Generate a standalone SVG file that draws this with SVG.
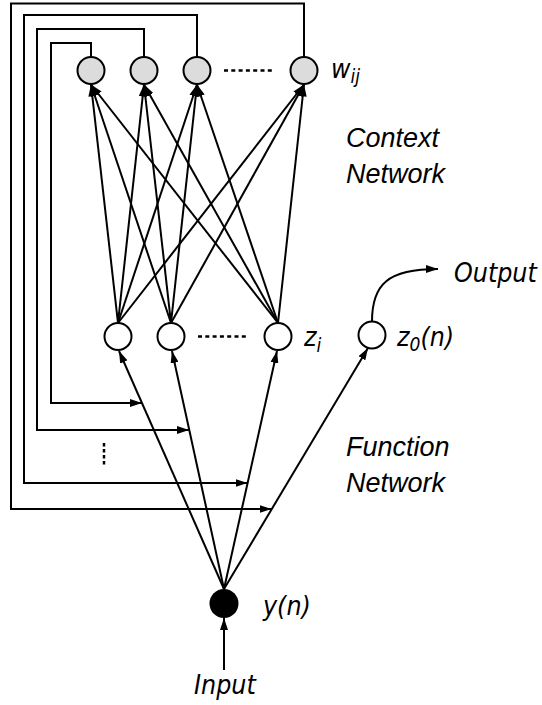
<svg xmlns="http://www.w3.org/2000/svg" width="542" height="705" viewBox="0 0 542 705">
<style>
.ln{fill:none;stroke:#000;stroke-width:2}
.ar{marker-end:url(#ah)}
.dot{fill:none;stroke:#000;stroke-width:2.5;stroke-dasharray:4 3.3}
.ctx{fill:#dcdcdc;stroke:#000;stroke-width:2}
.fn{fill:#fff;stroke:#000;stroke-width:2}
.lbl{font-family:"DejaVu Sans Condensed","DejaVu Sans",sans-serif;font-style:oblique;font-size:26.5px;fill:#000}
.sub{font-size:19px}
.ttl{font-family:"Liberation Sans",Arial,sans-serif;font-style:italic;font-size:27px;fill:#000}
</style>
<defs>
<marker id="ah" markerUnits="userSpaceOnUse" markerWidth="12" markerHeight="8" refX="12" refY="4" orient="auto">
<path d="M0,0 L12,4 L0,8 z" fill="#000"/>
</marker>
</defs>
<rect width="542" height="705" fill="#fff"/>
<g id="connectors">
<!-- feedback loops -->
<path class="ln ar" d="M91,57 V43 H51 V403 H142"/>
<path class="ln ar" d="M144,57 V29 H37 V430 H189"/>
<path class="ln ar" d="M197,57 V15 H24 V483 H247.5"/>
<path class="ln ar" d="M304,57 V3.5 H11 V509 H271.5"/>
<!-- function to context -->
<path class="ln ar" d="M118,323 L91,84.5"/>
<path class="ln ar" d="M118,323 L144,84.5"/>
<path class="ln ar" d="M118,323 L197,84.5"/>
<path class="ln ar" d="M118,323 L304,84.5"/>
<path class="ln ar" d="M171,323 L91,84.5"/>
<path class="ln ar" d="M171,323 L144,84.5"/>
<path class="ln ar" d="M171,323 L197,84.5"/>
<path class="ln ar" d="M171,323 L304,84.5"/>
<path class="ln ar" d="M278,323 L91,84.5"/>
<path class="ln ar" d="M278,323 L144,84.5"/>
<path class="ln ar" d="M278,323 L197,84.5"/>
<path class="ln ar" d="M278,323 L304,84.5"/>
<!-- input to function -->
<path class="ln ar" d="M224,589 L119,351"/>
<path class="ln ar" d="M224,589 L172,351"/>
<path class="ln ar" d="M224,589 L277,351"/>
<path class="ln ar" d="M224,589 L368,348"/>
<!-- input arrow -->
<path class="ln ar" d="M224,670 V618"/>
<!-- output arrow -->
<path class="ln ar" d="M372,321.5 C372,284 388,269 438,269"/>
</g>
<g id="ellipsis">
<path class="dot" d="M224,70.5 H275"/>
<path class="dot" d="M198,336.5 H248"/>
<path class="dot" d="M104,443 V467" style="stroke-dasharray:3.5 2.5"/>
</g>
<g id="context-nodes">
<circle class="ctx" cx="91" cy="70.5" r="13.5"/>
<circle class="ctx" cx="144" cy="70.5" r="13.5"/>
<circle class="ctx" cx="197" cy="70.5" r="13.5"/>
<circle class="ctx" cx="304" cy="70.5" r="13.5"/>
</g>
<g id="function-nodes">
<circle class="fn" cx="118" cy="336.5" r="13.5"/>
<circle class="fn" cx="171" cy="336.5" r="13.5"/>
<circle class="fn" cx="278" cy="336.5" r="13.5"/>
</g>
<g id="output-node">
<circle class="fn" cx="372" cy="335" r="13.5"/>
</g>
<g id="input-node">
<circle cx="224" cy="603.5" r="14.5" fill="#000"/>
</g>
<g id="labels">
<text class="lbl" x="331" y="78">w<tspan class="sub" dy="5">ij</tspan></text>
<text class="lbl" x="304" y="346">z<tspan class="sub" dy="6">i</tspan></text>
<text class="lbl" x="397" y="346">z<tspan class="sub" dy="5">0</tspan><tspan dy="-5">(n)</tspan></text>
<text class="lbl" x="454" y="282">Output</text>
<text class="lbl" x="263" y="615">y(n)</text>
<text class="lbl" x="194" y="694">Input</text>
<text class="ttl" x="346" y="147">Context</text>
<text class="ttl" x="346" y="183">Network</text>
<text class="ttl" x="346" y="456">Function</text>
<text class="ttl" x="346" y="492">Network</text>
</g>
</svg>
